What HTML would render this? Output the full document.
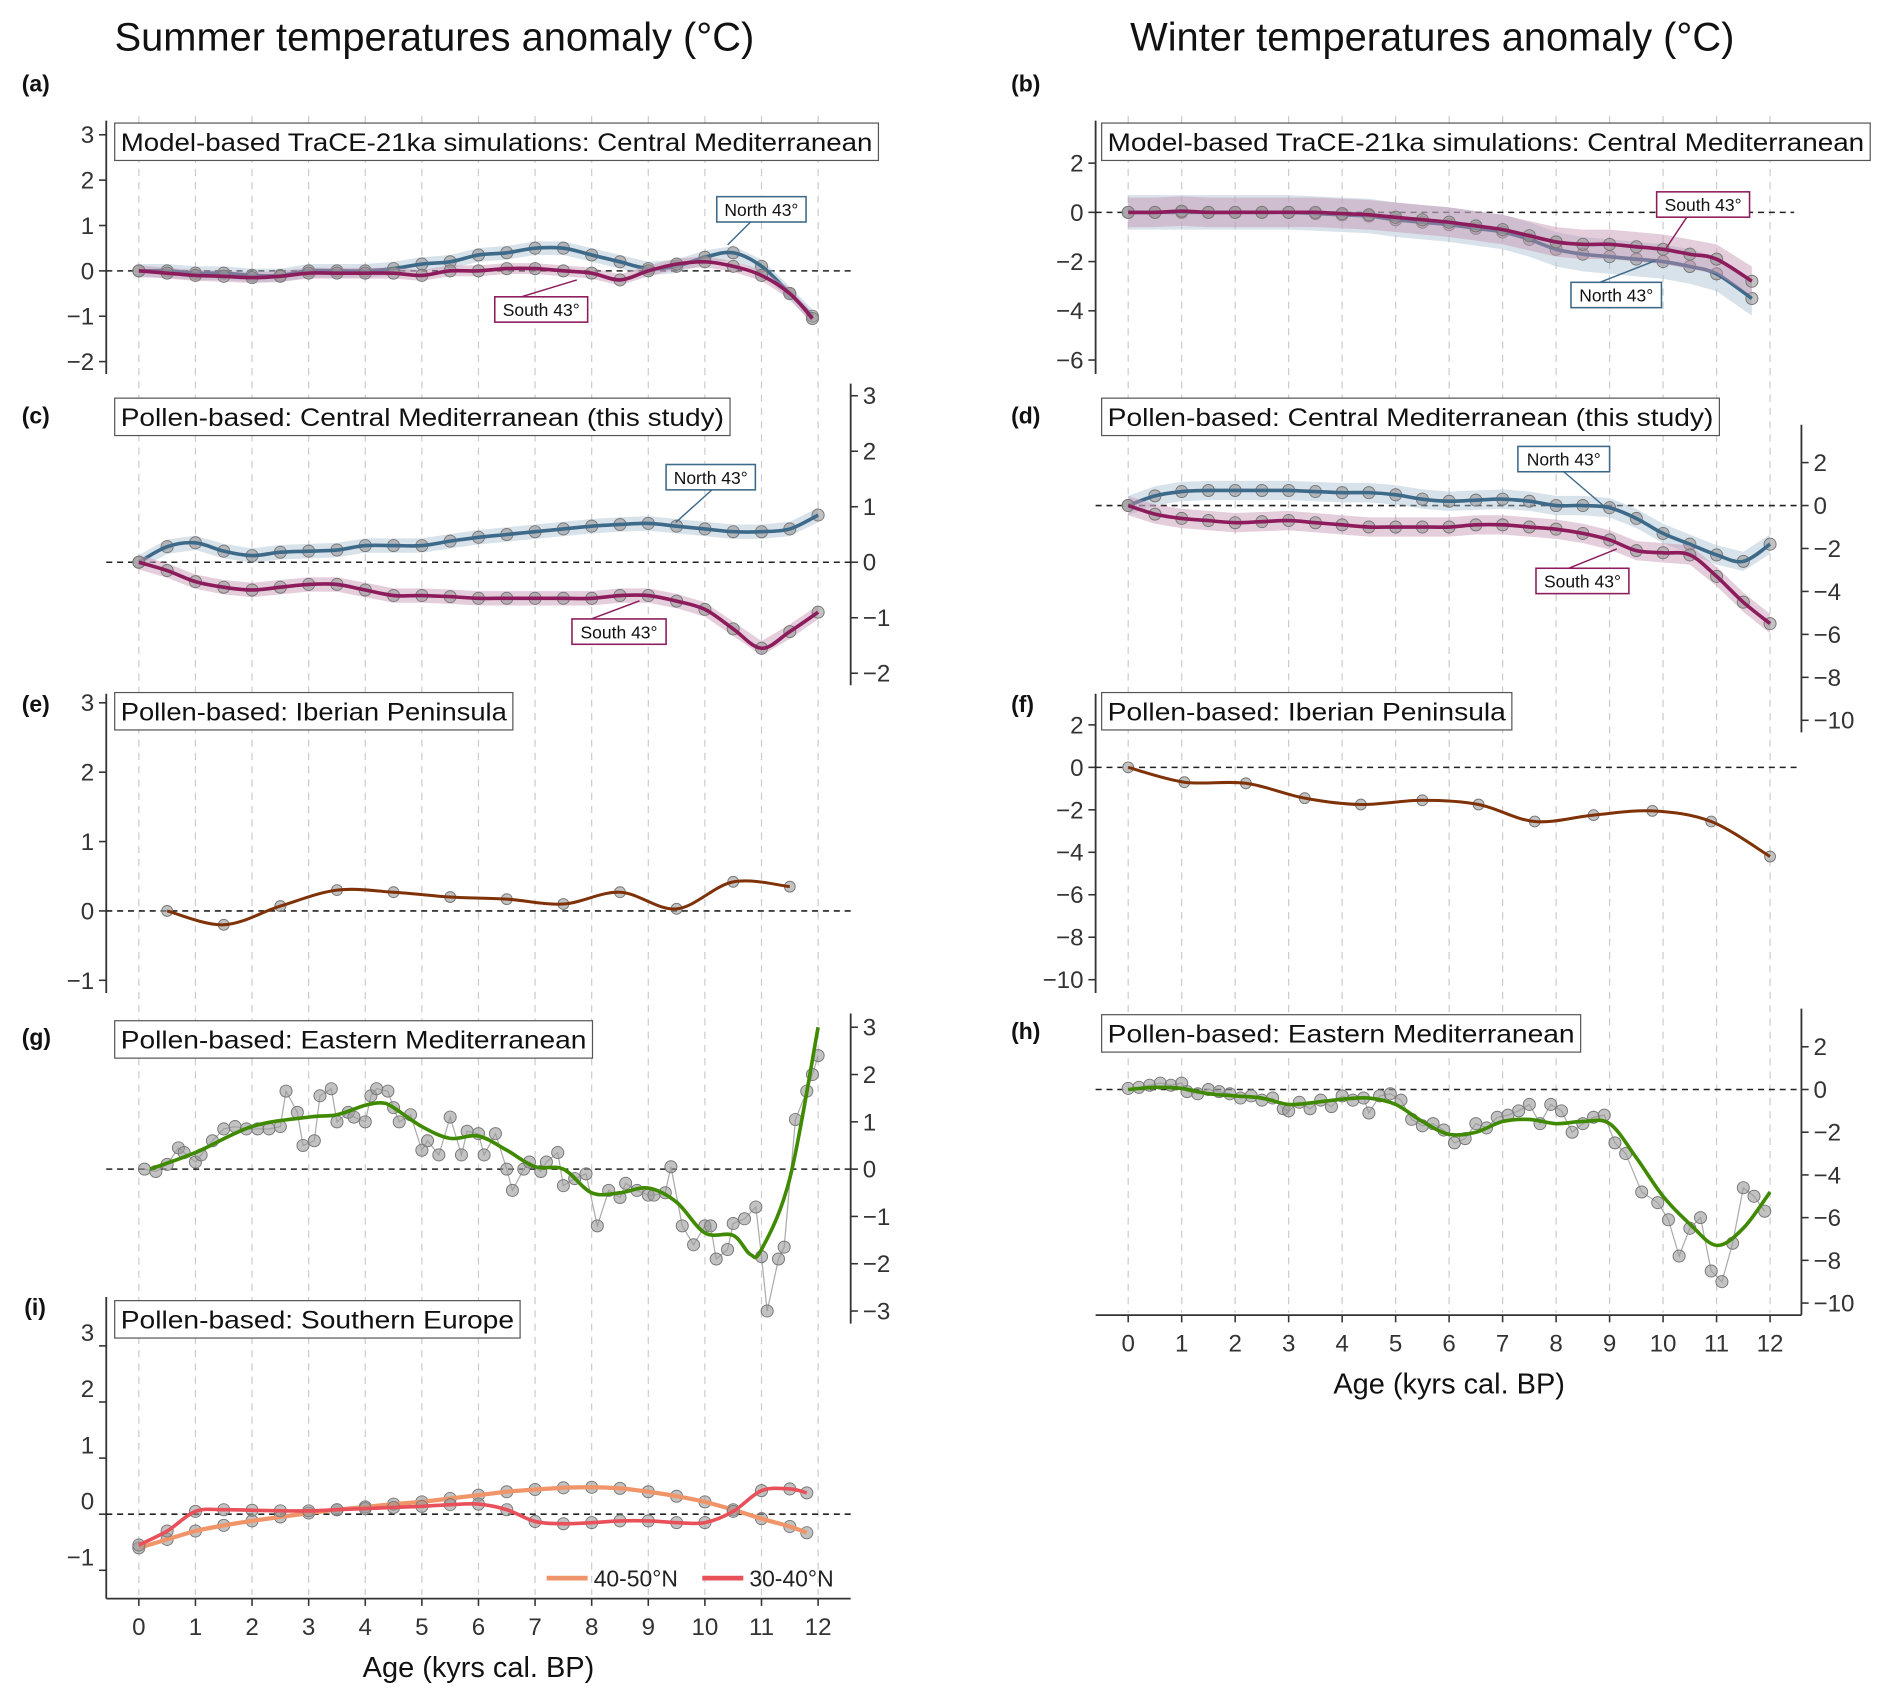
<!DOCTYPE html>
<html><head><meta charset="utf-8"><style>
html,body{margin:0;padding:0;background:#fff;}
svg{display:block;font-family:"Liberation Sans",sans-serif;}
</style></head><body>
<svg id="fig" width="1892" height="1700" viewBox="0 0 1568 1409" xmlns="http://www.w3.org/2000/svg"></svg>
<script>
// ---------- DATA ----------
const ageHalf = [0,0.5,1,1.5,2,2.5,3,3.5,4,4.5,5,5.5,6,6.5,7,7.5,8,8.5,9,9.5,10,10.5,11,11.5,12];
const ageA = [0,0.5,1,1.5,2,2.5,3,3.5,4,4.5,5,5.5,6,6.5,7,7.5,8,8.5,9,9.5,10,10.5,11,11.5,11.9];
const aNorth = [0,0,-0.05,-0.05,-0.1,-0.1,0,0,0,0.05,0.15,0.2,0.35,0.4,0.5,0.5,0.35,0.2,0.05,0.1,0.3,0.4,0.1,-0.5,-1.0];
const aSouth = [0,-0.05,-0.1,-0.12,-0.15,-0.12,-0.05,-0.05,-0.05,-0.05,-0.1,0,0,0.05,0.05,0,-0.05,-0.2,0,0.15,0.2,0.1,-0.1,-0.5,-1.05];
const ageB = [0,0.5,1,1.5,2,2.5,3,3.5,4,4.5,5,5.5,6,6.5,7,7.5,8,8.5,9,9.5,10,10.5,11,11.66];
const bNorth = [0,0,0,0,0,0,0,-0.05,-0.1,-0.15,-0.3,-0.4,-0.5,-0.65,-0.8,-1.1,-1.5,-1.7,-1.8,-1.9,-2.0,-2.2,-2.5,-3.5];
const bSouth = [0,0,0.05,0,0,0,0,0,-0.05,-0.1,-0.2,-0.3,-0.4,-0.55,-0.7,-0.95,-1.2,-1.3,-1.3,-1.4,-1.5,-1.7,-1.9,-2.8];
const cNorth = [0,0.28,0.35,0.2,0.12,0.18,0.2,0.22,0.3,0.3,0.3,0.38,0.45,0.5,0.55,0.6,0.65,0.68,0.7,0.65,0.6,0.55,0.55,0.6,0.85];
const cSouth = [0,-0.15,-0.35,-0.45,-0.5,-0.45,-0.4,-0.4,-0.5,-0.6,-0.6,-0.62,-0.65,-0.65,-0.65,-0.65,-0.65,-0.6,-0.6,-0.7,-0.85,-1.2,-1.55,-1.25,-0.9];
const dNorth = [0,0.45,0.65,0.7,0.7,0.7,0.7,0.65,0.6,0.6,0.5,0.3,0.2,0.25,0.3,0.2,0,0,-0.1,-0.6,-1.3,-1.8,-2.3,-2.6,-1.8];
const dSouth = [0,-0.4,-0.6,-0.7,-0.8,-0.75,-0.7,-0.8,-0.9,-1.0,-1.0,-1.0,-1.0,-0.9,-0.9,-1.0,-1.1,-1.3,-1.6,-2.1,-2.2,-2.3,-3.3,-4.5,-5.5];
const eAge = [0.5,1.5,2.5,3.5,4.5,5.5,6.5,7.5,8.5,9.5,10.5,11.5];
const eVal = [0,-0.2,0.07,0.3,0.27,0.2,0.17,0.1,0.27,0.03,0.42,0.35];
const fAge = [0,1.05,2.2,3.3,4.35,5.5,6.55,7.6,8.7,9.8,10.9,12];
const fVal = [0,-0.7,-0.75,-1.45,-1.75,-1.55,-1.75,-2.55,-2.25,-2.05,-2.55,-4.2];
const gSmoothAge = [0.2,1,2,3,3.5,4,4.3,4.5,5,5.5,6,6.5,7,7.5,8,8.5,9,9.5,10,10.5,10.8,11,11.5,12];
const gSmooth = [0,0.35,0.9,1.1,1.15,1.35,1.4,1.3,0.9,0.65,0.7,0.4,0.05,0.0,-0.5,-0.5,-0.4,-0.7,-1.35,-1.4,-1.8,-1.7,-0.2,3.0];
const gRawAge = [0.1,0.3,0.5,0.7,0.8,1,1.1,1.3,1.5,1.7,1.9,2.1,2.3,2.5,2.6,2.8,2.9,3.1,3.2,3.4,3.5,3.7,3.8,4.0,4.1,4.2,4.4,4.5,4.6,4.8,5.0,5.1,5.3,5.5,5.7,5.8,6.0,6.1,6.3,6.5,6.6,6.8,6.9,7.1,7.2,7.4,7.5,7.7,7.9,8.1,8.3,8.5,8.6,8.8,9.0,9.1,9.3,9.4,9.6,9.8,10,10.1,10.2,10.4,10.5,10.7,10.9,11.0,11.1,11.3,11.4,11.6,11.8,11.9,12.0];
const gRaw = [0,-0.05,0.1,0.45,0.35,0.15,0.3,0.6,0.85,0.9,0.85,0.85,0.85,0.9,1.65,1.2,0.5,0.6,1.55,1.7,1.0,1.2,1.1,1.0,1.55,1.7,1.65,1.3,1.0,1.15,0.4,0.6,0.3,1.1,0.3,0.8,0.75,0.3,0.75,0.0,-0.45,0.0,0.15,-0.05,0.15,0.35,-0.35,-0.2,-0.1,-1.2,-0.45,-0.6,-0.3,-0.45,-0.55,-0.55,-0.5,0.05,-1.2,-1.6,-1.2,-1.2,-1.9,-1.7,-1.15,-1.05,-0.8,-1.85,-3.0,-1.9,-1.65,1.05,1.65,2.0,2.4];
const hSmooth = [0,0.1,0.05,-0.2,-0.3,-0.4,-0.7,-0.6,-0.45,-0.4,-0.7,-1.5,-2.1,-2.0,-1.5,-1.4,-1.6,-1.5,-1.6,-3.2,-5.0,-6.3,-7.3,-6.5,-4.8];
const hRawAge = [0,0.2,0.4,0.6,0.8,1,1.1,1.3,1.5,1.7,1.9,2.1,2.3,2.5,2.7,2.9,3.0,3.2,3.4,3.6,3.8,4.0,4.2,4.4,4.5,4.7,4.9,5.1,5.3,5.5,5.7,5.9,6.1,6.3,6.5,6.7,6.9,7.1,7.3,7.5,7.7,7.9,8.1,8.3,8.5,8.7,8.9,9.1,9.3,9.6,9.9,10.1,10.3,10.5,10.7,10.9,11.1,11.3,11.5,11.7,11.9];
const hRaw = [0.05,0.1,0.2,0.3,0.2,0.3,-0.1,-0.2,0,-0.1,-0.2,-0.4,-0.3,-0.5,-0.4,-0.9,-1.0,-0.6,-0.9,-0.5,-0.8,-0.3,-0.5,-0.4,-1.1,-0.3,-0.2,-0.5,-1.4,-1.7,-1.6,-1.9,-2.5,-2.3,-1.6,-1.8,-1.3,-1.2,-1.0,-0.7,-1.6,-0.7,-1.0,-2.0,-1.6,-1.3,-1.2,-2.5,-3.0,-4.8,-5.3,-6.1,-7.8,-6.5,-6.0,-8.5,-9.0,-7.2,-4.6,-5.0,-5.7];
const iAge = [0,0.5,1,1.5,2,2.5,3,3.5,4,4.5,5,5.5,6,6.5,7,7.5,8,8.5,9,9.5,10,10.5,11,11.5,11.8];
const i4050 = [-0.6,-0.45,-0.3,-0.2,-0.12,-0.05,0.02,0.08,0.13,0.18,0.22,0.28,0.34,0.4,0.44,0.47,0.48,0.46,0.4,0.32,0.22,0.08,-0.08,-0.22,-0.33];
const i3040 = [-0.55,-0.3,0.05,0.08,0.07,0.06,0.06,0.08,0.1,0.12,0.14,0.17,0.18,0.08,-0.13,-0.17,-0.15,-0.12,-0.12,-0.15,-0.15,0.05,0.42,0.45,0.38];
const ticksX = [0,1,2,3,4,5,6,7,8,9,10,11,12];
const ticksSummerA = [3,2,1,0,-1,-2];
const ticksSummerE = [3,2,1,0,-1];
const ticksSummerG = [3,2,1,0,-1,-2,-3];
const ticksWinterB = [2,0,-2,-4,-6];
const ticksWinterD = [2,0,-2,-4,-6,-8,-10];
const ticksSummerI = [3,2,1,0,-1];

// ---------- HELPERS ----------
const NS = "http://www.w3.org/2000/svg";
const svg = document.getElementById('fig');
function mk(tag, attrs, parent){
  const e = document.createElementNS(NS, tag);
  for (const k in attrs) e.setAttribute(k, attrs[k]);
  (parent||svg).appendChild(e);
  return e;
}
function txt(s, attrs, parent){ const e = mk('text', attrs, parent); e.textContent = s; return e; }
function crPath(pts){
  if (pts.length < 2) return '';
  let d = 'M' + pts[0][0].toFixed(1) + ',' + pts[0][1].toFixed(1);
  for (let i=0;i<pts.length-1;i++){
    const p0 = pts[i-1]||pts[i], p1 = pts[i], p2 = pts[i+1], p3 = pts[i+2]||p2;
    const c1 = [p1[0]+(p2[0]-p0[0])/6, p1[1]+(p2[1]-p0[1])/6];
    const c2 = [p2[0]-(p3[0]-p1[0])/6, p2[1]-(p3[1]-p1[1])/6];
    d += 'C'+c1[0].toFixed(1)+','+c1[1].toFixed(1)+' '+c2[0].toFixed(1)+','+c2[1].toFixed(1)+' '+p2[0].toFixed(1)+','+p2[1].toFixed(1);
  }
  return d;
}
const xL = a => 115 + a*(678-115)/12;
const xR = a => 935 + a*(1467-935)/12;
function yS(zero, per){ return v => zero - v*per; }

// ---------- TITLES ----------
let t;
t = txt('Summer temperatures anomaly (°C)', {x:360, y:42, 'font-size':33, 'text-anchor':'middle', fill:'#111'});


t = txt('Winter temperatures anomaly (°C)', {x:1187, y:42, 'font-size':33, 'text-anchor':'middle', fill:'#111'});



// grid lines
for (const a of ticksX){
  let l = mk('line',{x1:xL(a),x2:xL(a),y1:96,y2:1322,stroke:'#ccc','stroke-dasharray':'6,5','stroke-width':1});
  
  
  l = mk('line',{x1:xR(a),x2:xR(a),y1:96,y2:1088,stroke:'#ccc','stroke-dasharray':'6,5','stroke-width':1});
  
  
}

function panel(o){
  const g = mk('g',{});
  
  
  // letter
  const lt = txt(o.letter,{x:o.lx,y:o.ly,'font-size':19,'font-weight':'bold',fill:'#111'},g);
  
  
  // axis
  const ax = mk('line',{x1:o.axX,x2:o.axX,y1:o.axT,y2:o.axB,stroke:'#333','stroke-width':1.5},g);
  
  
  for (const v of o.ticks){
    const yy = o.y(v) + (o.labOff||0);
    const tk = mk('line',{x1:o.axX,x2:o.axX+(o.right?6:-6),y1:o.y(v),y2:o.y(v),stroke:'#333','stroke-width':1.3},g);
    
    
    const tl = txt((v<0?'\u2212'+(-v):String(v)),{x:o.right?o.axX+10:o.axX-10,y:yy+7,'font-size':20,fill:'#333','text-anchor':o.right?'start':'end'},g);
    
    
  }
  // zero line
  const z = mk('line',{x1:o.zx1,x2:o.zx2,y1:o.y(0),y2:o.y(0),stroke:'#222','stroke-dasharray':'5,4','stroke-width':1.3},g);
  
  
  // title box
  const bg = mk('g',{},g);
  
  
  mk('rect',{x:o.bx,y:o.by,width:o.bw,height:31,fill:'#fff',stroke:'#555','stroke-width':1},bg);
  txt(o.title,{x:o.bx+5,y:o.by+23,'font-size':20.5,fill:'#111',textLength:o.bw-10,lengthAdjust:'spacingAndGlyphs'},bg);
  return g;
}
function series(g, x, y, ages, vals, color, name, band, bandColor, lw, dotR){
  const sg = mk('g',{},g);
  
  
  const pts = ages.map((a,i)=>[x(a), y(vals[i])]);
  if (band){
    const up = ages.map((a,i)=>[x(a), y(vals[i]+band)]);
    const dn = ages.map((a,i)=>[x(a), y(vals[i]-band)]).reverse();
    const b = mk('path',{d:'M'+up.map(p=>p.join(',')).join('L')+'L'+dn.map(p=>p.join(',')).join('L')+'Z',fill:bandColor,'fill-opacity':0.45},sg);
    
    
  }
  if (dotR){
    for (const p of pts){
      const c = mk('circle',{cx:p[0],cy:p[1],r:dotR,fill:'#999','fill-opacity':0.6,stroke:'#777','stroke-width':0.8},sg);
      
      
    }
  }
  const l = mk('path',{d:crPath(pts),fill:'none',stroke:color,'stroke-width':lw||3},sg);
  
  
  return sg;
}
function rawLine(g, x, y, ages, vals, name){
  const sg = mk('g',{},g);
  
  
  const pts = ages.map((a,i)=>[x(a), y(vals[i])]);
  const l = mk('polyline',{points:pts.map(p=>p.join(',')).join(' '),fill:'none',stroke:'#aaa','stroke-width':1},sg);
  
  
  for (const p of pts){
    const c = mk('circle',{cx:p[0],cy:p[1],r:5,fill:'#999','fill-opacity':0.6,stroke:'#777','stroke-width':0.8},sg);
    
    
  }
}
function tag(g, label, bx, by, w, color, lx1, ly1, lx2, ly2){
  const tg = mk('g',{},g);
  
  
  mk('line',{x1:lx1,y1:ly1,x2:lx2,y2:ly2,stroke:color,'stroke-width':1.2},tg);
  mk('rect',{x:bx,y:by,width:w,height:21,fill:'#fff',stroke:color,'stroke-width':1.3},tg);
  txt(label,{x:bx+w/2,y:by+16,'font-size':14.5,'text-anchor':'middle',fill:'#111'},tg);
}
const BLUE='#3e6a8a', BLUEB='#a9bfd0', PUR='#8c1c5c', PURB='#c593b2', BROWN='#7f3208', GREEN='#3f8a00';

// (a)
let yA = yS(224.5, 37.6);
let g = panel({name:'panel-a',letter:'(a)',lx:18,ly:76,axX:88,axT:100,axB:310,ticks:ticksSummerA,y:yA,zx1:88,zx2:705,bx:95,by:102,bw:633,title:'Model-based TraCE-21ka simulations: Central Mediterranean'});
series(g,xL,yA,ageA,aNorth,BLUE,'series-north-43',0.15,BLUEB,3,5);
series(g,xL,yA,ageA,aSouth,PUR,'series-south-43',0.12,PURB,3,5);
tag(g,'North 43°',594,163,74,BLUE,622,184,603,203);
tag(g,'South 43°',410,246,77,PUR,432,246,478,232);

// (b)
let yB = yS(176, 20.4);
g = panel({name:'panel-b',letter:'(b)',lx:838,ly:76,axX:908,axT:100,axB:310,ticks:ticksWinterB,y:yB,zx1:908,zx2:1487,bx:913,by:102,bw:637,title:'Model-based TraCE-21ka simulations: Central Mediterranean'});
series(g,xR,yB,ageB,bNorth,BLUE,'series-north-43',0.7,BLUEB,3,5);
series(g,xR,yB,ageB,bSouth,PUR,'series-south-43',0.6,PURB,3,5);
tag(g,'South 43°',1373,159,77,PUR,1398,180,1380,207);
tag(g,'North 43°',1302,234,75,BLUE,1326,234,1372,216);

// (c)
let yC = yS(466, 46);
g = panel({name:'panel-c',letter:'(c)',lx:18,ly:351,axX:705,axT:318,axB:568,ticks:ticksSummerA,y:yC,right:true,zx1:88,zx2:705,bx:95,by:330,bw:510,title:'Pollen-based: Central Mediterranean (this study)'});
series(g,xL,yC,ageHalf,cNorth,BLUE,'series-north-43',0.13,BLUEB,3,5);
series(g,xL,yC,ageHalf,cSouth,PUR,'series-south-43',0.13,PURB,3,5);
tag(g,'North 43°',552,385,74,BLUE,590,406,560,433);
tag(g,'South 43°',474,513,78,PUR,490,513,530,498);

// (d)
let yD = yS(419, 17.8);
g = panel({name:'panel-d',letter:'(d)',lx:838,ly:351,axX:1493,axT:352,axB:607,ticks:ticksWinterD,y:yD,right:true,zx1:908,zx2:1493,bx:913,by:330,bw:512,title:'Pollen-based: Central Mediterranean (this study)'});
series(g,xR,yD,ageHalf,dNorth,BLUE,'series-north-43',0.45,BLUEB,3,5);
series(g,xR,yD,ageHalf,dSouth,PUR,'series-south-43',0.45,PURB,3,5);
tag(g,'North 43°',1258,370,76,BLUE,1296,391,1330,420);
tag(g,'South 43°',1273,471,77,PUR,1300,471,1340,455);

// (e)
let yE = yS(755, 57.5);
g = panel({name:'panel-e',letter:'(e)',lx:18,ly:590,axX:88,axT:575,axB:823,ticks:ticksSummerE,y:yE,zx1:88,zx2:705,bx:95,by:574,bw:330,title:'Pollen-based: Iberian Peninsula'});
series(g,xL,yE,eAge,eVal,BROWN,'series-iberia-summer',0,null,2.5,4.5);

// (f)
let yF = yS(636, 17.6);
g = panel({name:'panel-f',letter:'(f)',lx:838,ly:590,axX:908,axT:575,axB:823,ticks:ticksWinterD,y:yF,zx1:908,zx2:1493,bx:913,by:574,bw:340,title:'Pollen-based: Iberian Peninsula'});
series(g,xR,yF,fAge,fVal,BROWN,'series-iberia-winter',0,null,2.5,4.5);

// (g)
let yG = yS(969, 39.2);
g = panel({name:'panel-g',letter:'(g)',lx:18,ly:866,axX:705,axT:840,axB:1097,ticks:ticksSummerG,y:yG,right:true,zx1:88,zx2:705,bx:95,by:846,bw:396,title:'Pollen-based: Eastern Mediterranean'});
rawLine(g,xL,yG,gRawAge,gRaw,'raw-eastern-summer');
series(g,xL,yG,gSmoothAge,gSmooth,GREEN,'series-eastern-summer',0,null,3,0);

// (h)
let yH = yS(903, 17.7);
g = panel({name:'panel-h',letter:'(h)',lx:838,ly:861,axX:1493,axT:836,axB:1090,ticks:ticksWinterD,y:yH,right:true,zx1:908,zx2:1493,bx:913,by:841,bw:397,title:'Pollen-based: Eastern Mediterranean'});
rawLine(g,xR,yH,hRawAge,hRaw,'raw-eastern-winter');
series(g,xR,yH,ageHalf,hSmooth,GREEN,'series-eastern-winter',0,null,3,0);

// (i)
let yI = yS(1255, 46.5);
g = panel({name:'panel-i',letter:'(i)',lx:20,ly:1090,axX:88,axT:1075,axB:1325,ticks:ticksSummerI,y:yI,labOff:-11,zx1:88,zx2:705,bx:95,by:1078,bw:336,title:'Pollen-based: Southern Europe'});
series(g,xL,yI,iAge,i4050,'#f0956a','series-40-50N',0,null,3.5,5);
series(g,xL,yI,iAge,i3040,'#e8505a','series-30-40N',0,null,3,5);
// legend
const lg = mk('g',{});


let le = mk('g',{},lg);


mk('line',{x1:453,x2:487,y1:1308,y2:1308,stroke:'#f0956a','stroke-width':4},le);
txt('40-50°N',{x:492,y:1315,'font-size':19,fill:'#222'},le);
le = mk('g',{},lg);


mk('line',{x1:582,x2:616,y1:1308,y2:1308,stroke:'#e8505a','stroke-width':4},le);
txt('30-40°N',{x:621,y:1315,'font-size':19,fill:'#222'},le);

// x axes
function xAxis(x, yAx, x1, x2, name){
  const ag = mk('g',{});
  
  
  mk('line',{x1:x1,x2:x2,y1:yAx,y2:yAx,stroke:'#333','stroke-width':1.5},ag);
  for (const a of ticksX){
    mk('line',{x1:x(a),x2:x(a),y1:yAx,y2:yAx+6,stroke:'#333','stroke-width':1.3},ag);
    const tl = txt(String(a),{x:x(a),y:yAx+30,'font-size':20,'text-anchor':'middle',fill:'#333'},ag);
    
    
  }
  const tt = txt('Age (kyrs cal. BP)',{x:(x(0)+x(12))/2,y:yAx+65,'font-size':24,'text-anchor':'middle',fill:'#111'},ag);
  
  
}
xAxis(xL,1325,88,705,'x-axis-summer');
xAxis(xR,1090,908,1493,'x-axis-winter');
</script>
</body></html>
